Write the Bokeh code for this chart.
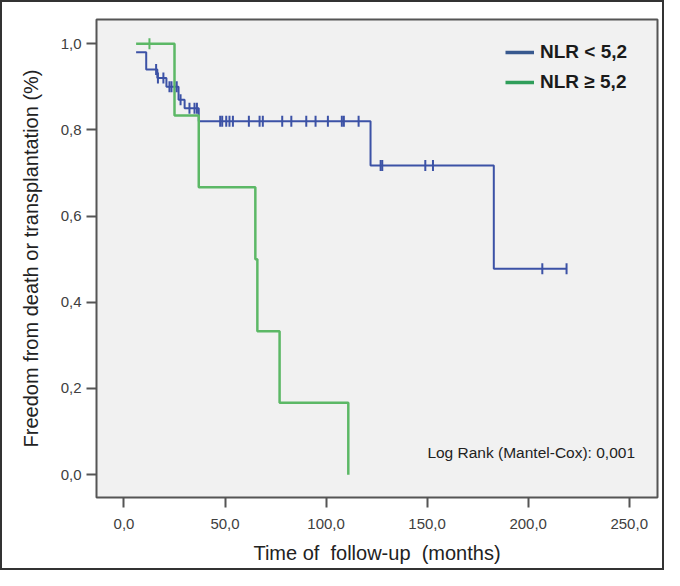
import numpy as np
from bokeh.plotting import figure
from bokeh.models import Range1d, FixedTicker, Legend, LegendItem, Label
from bokeh.embed import file_html
from bokeh.resources import INLINE

# ---- data ----
blue_times = [6, 11, 16.5, 21, 27, 30, 37, 122, 183, 219]
blue_surv = [0.98, 0.94, 0.92, 0.90, 0.87, 0.85, 0.82, 0.717, 0.478, 0.478]
blue_censor = [15.9, 16.8, 19.5, 22.5, 23.5, 26.1, 28, 32.4, 34.9, 36.1,
               47.6, 48.6, 50.6, 52.2, 53.9, 61.8, 67.1, 68.7, 78.3, 82.8,
               90.2, 94.8, 100.9, 107.8, 108.8, 116.1, 127, 127.8, 149.1,
               152.9, 207, 219]

green_times = [6, 25, 37, 65, 66, 77, 111]
green_surv = [1.0, 0.833, 0.667, 0.5, 0.333, 0.167, 0.0]
green_censor = [12.6]

x_ticks = [0, 50, 100, 150, 200, 250]
x_tick_labels = ["0,0", "50,0", "100,0", "150,0", "200,0", "250,0"]
y_ticks = [0, 0.2, 0.4, 0.6, 0.8, 1.0]
y_tick_labels = ["0,0", "0,2", "0,4", "0,6", "0,8", "1,0"]

series_labels = ["NLR < 5,2", "NLR \u2265 5,2"]
annotation_text = "Log Rank (Mantel-Cox): 0,001"
x_title = "Time of\u00a0 follow-up\u00a0 (months)"
y_title = "Freedom from death or transplantation (%)"

BLUE = "#3c52a6"
GREEN = "#5cb866"
LEG_BLUE = "#38598f"
LEG_GREEN = "#2f9e5a"
FONT = "Liberation Sans"


def censor_levels(times, surv, censor):
    idx = np.searchsorted(np.array(times), np.array(censor), side="right") - 1
    return list(np.array(surv)[idx])


p = figure(width=664, height=570, output_backend="svg", toolbar_location=None,
           x_range=Range1d(-13.6, 264), y_range=Range1d(-0.053, 1.056),
           min_border_left=94, min_border_right=9, min_border_top=17,
           min_border_bottom=75)
p.styles = {"border": "2px solid #333333"}

p.background_fill_color = "#f1f1f1"
p.border_fill_color = "white"
p.outline_line_color = "#555555"
p.outline_line_width = 2
p.grid.visible = False

# curves
p.step(blue_times, blue_surv, mode="after", line_color=BLUE, line_width=2)
p.step(green_times, green_surv, mode="after", line_color=GREEN, line_width=2.5)

# censor marks
p.scatter(blue_censor, censor_levels(blue_times, blue_surv, blue_censor),
          marker="dash", angle=np.pi / 2, size=11, line_color=BLUE, line_width=2)
p.scatter(green_censor, censor_levels(green_times, green_surv, green_censor),
          marker="dash", angle=np.pi / 2, size=11, line_color=GREEN, line_width=2)

# axes
for ax in (p.xaxis[0], p.yaxis[0]):
    ax.axis_line_color = None
    ax.major_tick_in = 0
    ax.major_tick_out = 10
    ax.major_tick_line_color = "#555555"
    ax.major_tick_line_width = 2
    ax.minor_tick_line_color = None
    ax.major_label_text_font = FONT
    ax.major_label_text_font_size = "15px"
    ax.major_label_text_color = "#404040"
    ax.axis_label_text_font = FONT
    ax.axis_label_text_font_size = "20px"
    ax.axis_label_text_font_style = "normal"
    ax.axis_label_text_color = "#222222"

p.xaxis.ticker = FixedTicker(ticks=x_ticks)
p.xaxis.major_label_overrides = dict(zip(x_ticks, x_tick_labels))
p.xaxis.major_label_standoff = 11
p.xaxis.axis_label = x_title
p.xaxis.axis_label_standoff = 10

p.yaxis.ticker = FixedTicker(ticks=y_ticks)
p.yaxis.major_label_overrides = dict(zip(y_ticks, y_tick_labels))
p.yaxis.major_label_standoff = 5
p.yaxis.axis_label = y_title
p.yaxis.axis_label_standoff = 16

# legend
leg_b = p.line(x=[np.nan], y=[np.nan], line_color=LEG_BLUE, line_width=3.5)
leg_g = p.line(x=[np.nan], y=[np.nan], line_color=LEG_GREEN, line_width=3.5)
legend = Legend(items=[LegendItem(label=series_labels[0], renderers=[leg_b]),
                       LegendItem(label=series_labels[1], renderers=[leg_g])],
                location=(409, 404), orientation="vertical",
                border_line_color=None, background_fill_alpha=0,
                padding=0, margin=0, spacing=8,
                glyph_width=29, glyph_height=22, label_height=22,
                label_standoff=6, label_text_font=FONT,
                label_text_font_size="19px", label_text_font_style="bold",
                label_text_color="#1a1a1a")
p.add_layout(legend)

p.add_layout(Label(x=201.5, y=0.051, text=annotation_text, text_align="center",
                   text_baseline="middle", text_font=FONT,
                   text_font_size="15.5px", text_color="#222222"))

open("out.html", "w").write(file_html(p, INLINE))
